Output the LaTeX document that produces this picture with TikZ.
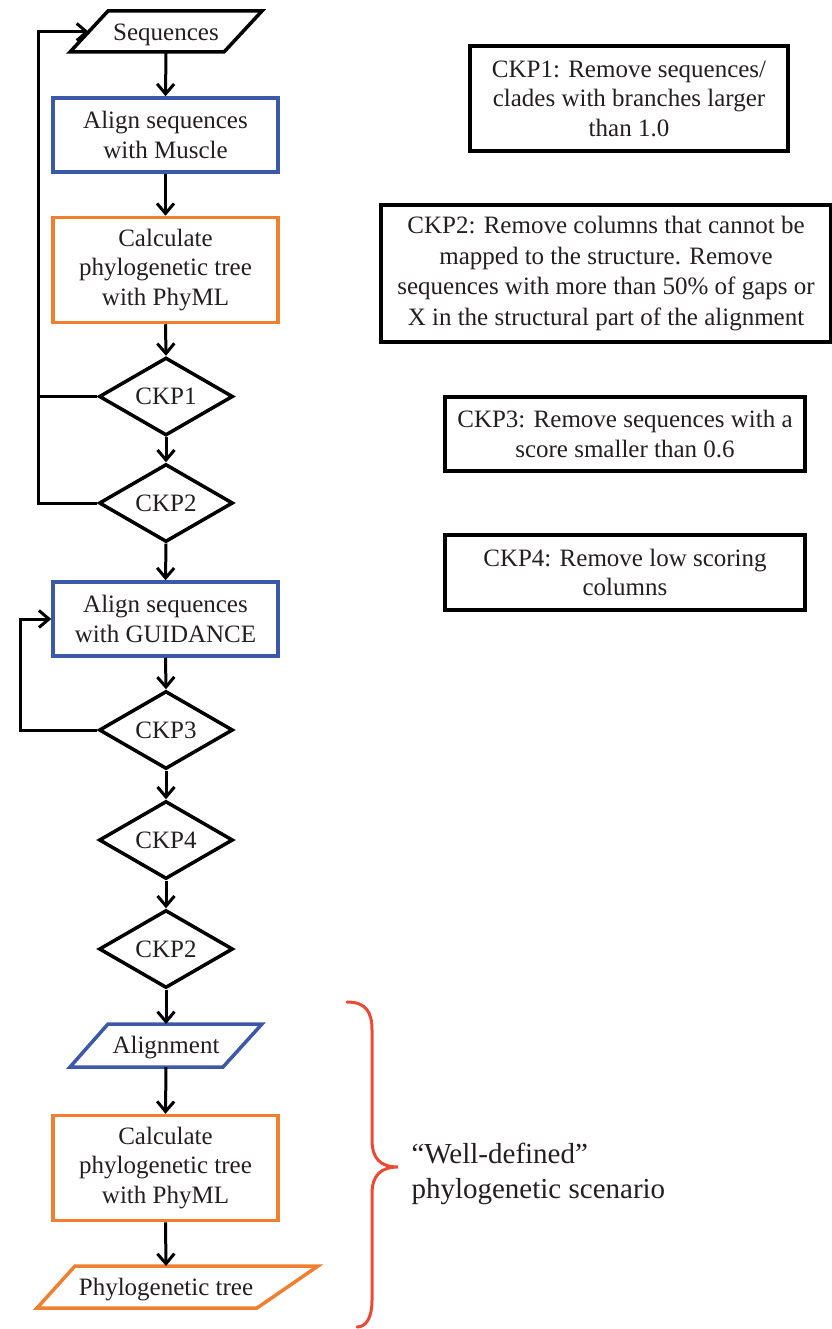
\documentclass[tikz,border=0pt]{standalone}
\usepackage{fontspec}
\setmainfont{Liberation Serif}
\usetikzlibrary{shapes.geometric,arrows.meta}
\definecolor{myblue}{RGB}{60,88,168}
\definecolor{myorange}{RGB}{240,128,48}
\definecolor{myred}{RGB}{236,72,52}
\definecolor{txt}{RGB}{35,31,32}
\begin{document}
\begin{tikzpicture}[x=1pt,y=-1pt,
  every node/.style={font=\fontsize{25}{29.5}\selectfont, text=txt},
  procbox/.style={draw, rectangle, line width=3.5pt, align=center, minimum width=225pt, inner sep=0pt},
  notebox/.style={draw=black, rectangle, line width=4pt, align=center, inner sep=0pt},
  ckp/.style={draw=black, diamond, line width=3.5pt, inner sep=0pt, minimum width=134pt, minimum height=62pt},
  iotext/.style={rectangle, inner sep=0pt, minimum height=42pt},
  ioline/.style={line width=3.5pt, line join=miter},
  arr/.style={line width=3pt, -{Straight Barb[length=10pt,width=17pt,line width=3pt]}},
  ln/.style={line width=3pt}]
\useasboundingbox (0,0) rectangle (831,1329);
% left column
\node[iotext, minimum width=154pt] (seq) at (166,35) {Sequences};
\draw[ioline, draw=black] (70,52) -- (108,11) -- (262,11) -- (224,52) -- cycle;
\node[procbox, draw=myblue, minimum height=74pt] (muscle) at (165.5,135) {Align sequences\\with Muscle};
\node[procbox, draw=myorange, minimum height=105pt] (phyml1) at (165.5,270) {Calculate\\phylogenetic tree\\with PhyML};
\node[ckp] (ckp1) at (166,396.5) {CKP1};
\node[ckp] (ckp2a) at (166,503) {CKP2};
\node[procbox, draw=myblue, minimum height=74pt] (guid) at (165.5,619) {Align sequences\\with GUIDANCE};
\node[ckp] (ckp3) at (166,730) {CKP3};
\node[ckp] (ckp4) at (166,840) {CKP4};
\node[ckp] (ckp2b) at (166,949) {CKP2};
\node[iotext, minimum width=154pt, minimum height=43pt] (aln) at (166,1048) {Alignment};
\draw[ioline, draw=myblue] (70,1067) -- (108,1024) -- (262,1024) -- (223,1067) -- cycle;
\node[procbox, draw=myorange, minimum height=105pt] (phyml2) at (165.5,1168) {Calculate\\phylogenetic tree\\with PhyML};
\node[iotext, minimum width=182pt] (tree) at (166,1290) {Phylogenetic tree};
\draw[ioline, draw=myorange] (37,1308) -- (75,1266) -- (318,1266) -- (257,1308) -- cycle;
% arrows
\draw[arr] (166,52) -- (muscle.north);
\draw[arr] (muscle.south) -- (phyml1.north);
\draw[arr] (phyml1.south) -- (ckp1.north);
\draw[arr] (ckp1.south) -- (ckp2a.north);
\draw[arr] (ckp2a.south) -- (guid.north);
\draw[arr] (guid.south) -- (ckp3.north);
\draw[arr] (ckp3.south) -- (ckp4.north);
\draw[arr] (ckp4.south) -- (ckp2b.north);
\draw[arr] (ckp2b.south) -- (166,1024);
\draw[arr] (166,1067) -- (phyml2.north);
\draw[arr] (phyml2.south) -- (166,1266);
% loops
\coordinate (L1a) at (38,503);
\coordinate (L1b) at (38,32);
\coordinate (seqL) at (89,32);
\draw[arr] (ckp2a.west) -- (L1a) -- (L1b) -- (seqL);
\draw[ln] (ckp1.west) -- (ckp1.west -| L1a);
\coordinate (L2a) at (20,730);
\coordinate (L2b) at (20,619);
\draw[arr] (ckp3.west) -- (L2a) -- (L2b) -- (guid.west);
% notes
\node[notebox, minimum width=318pt, minimum height=105pt] (n1) at (629,98.5) {CKP1: Remove sequences/\\clades with branches larger\\than 1.0};
\node[notebox, minimum width=450pt, minimum height=137pt, font=\fontsize{25}{30.5}\selectfont] (n2) at (606,273.5) {CKP2: Remove columns that cannot be\\mapped to the structure. Remove\\sequences with more than 50\% of gaps or\\X in the structural part of the alignment};
\node[notebox, minimum width=360pt, minimum height=74pt] (n3) at (625,434) {CKP3: Remove sequences with a\\score smaller than 0.6};
\node[notebox, minimum width=360pt, minimum height=75pt] (n4) at (625,572.5) {CKP4: Remove low scoring\\columns};
% brace
\draw[myred, line width=3pt, line cap=round]
  (347,1002) .. controls (366,1002) and (372,1012) .. (372,1030)
  -- (372,1140) .. controls (372,1158) and (380,1167) .. (398,1167)
  .. controls (380,1167) and (372,1176) .. (372,1194)
  -- (372,1300) .. controls (372,1318) and (366,1327) .. (357,1327);
\node[anchor=west, align=left, font=\fontsize{29}{35}\selectfont] (wd) at (408,1174) {“Well-defined”\\phylogenetic scenario};
\end{tikzpicture}
\end{document}
